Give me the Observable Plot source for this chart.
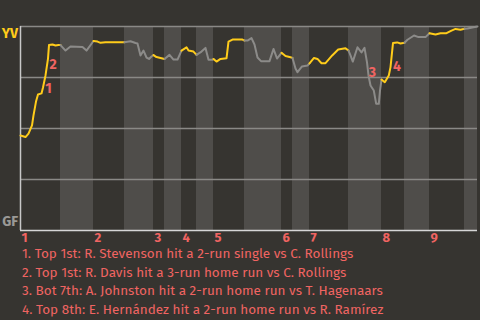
<!DOCTYPE html>
<html><head><meta charset="utf-8">
<script src="https://cdn.jsdelivr.net/npm/d3@7"></script>
<script src="https://cdn.jsdelivr.net/npm/@observablehq/plot@0.6"></script>
<style>
html,body{margin:0;padding:0;background:#363430;}
body{width:480px;height:320px;overflow:hidden;font-family:"Fira Sans",Lato,"Noto Sans",sans-serif;}
#notes{color:#f06462;font-size:13.5px;line-height:18.5px;padding-left:22px;white-space:nowrap;}
svg{display:block;}
</style></head><body><div id="chart"></div><div id="notes"></div>
<script>
// Game progress (plays, in chart units) and YV win probability
const progress = [0,5,8,11.5,13,15.5,17.5,21,22.5,25,27.5,28.5,32,35,38,40,
  45,50,62,66,73,
  77,80,85,104,
  110,115,117,120,123,126,128.5,131,133,
  136,140,144,
  149,153,157,161,
  166,168,173,176,
  181,185,188,192,193,
  196,200,206,208,212,222,224,
  227,231,234,237,240.5,249,253,256.5,261,
  265,270,272,
  275,277,281.5,287,289,
  293.5,297,301,305,311.7,317.7,325,328,
  330,332.3,337,341,344,346.5,348,350,353.3,355.7,358.3,359.5,361,
  364.3,368.3,370,372.5,376.7,380,384,
  387,393.5,398,405,409,
  415,420,426,431,435,440,444,
  447,453,457];
const winProb = [0.466,0.458,0.475,0.515,0.564,0.632,0.667,0.672,0.701,0.760,0.843,0.909,0.912,0.907,0.909,0.909,
  0.882,0.902,0.899,0.882,0.929,
  0.926,0.920,0.923,0.923,
  0.928,0.919,0.917,0.858,0.882,0.848,0.841,0.853,0.860,
  0.850,0.846,0.841,
  0.861,0.838,0.838,0.882,
  0.898,0.882,0.877,0.861,
  0.877,0.895,0.837,0.837,0.841,
  0.828,0.841,0.844,0.926,0.936,0.936,0.931,
  0.931,0.943,0.912,0.848,0.830,0.830,0.890,0.843,0.871,
  0.855,0.849,0.846,
  0.794,0.776,0.804,0.809,0.819,
  0.846,0.841,0.820,0.820,0.858,0.887,0.893,0.882,
  0.858,0.828,0.898,0.873,0.895,0.824,0.760,0.711,0.686,0.621,0.621,0.686,0.740,
  0.727,0.760,0.801,0.919,0.922,0.917,0.920,
  0.935,0.956,0.948,0.948,0.967,
  0.961,0.967,0.967,0.980,0.988,0.984,0.989,
  0.990,0.996,1.0];
const inningStarts = [0,73,133,161,193,261,289,361,409];
const bottomStarts = [40,104,144,176,224,272,328,384,444];
const gameEnd = 457;
const inningLabels = ["1","2","3","4","5","6","7","8","9"];
const teams = ["YV","GF"];
const eventNums = ["1","2","3","4"];
const eventX = [28,32.5,352,376.5];
const eventWP = [0.697,0.815,0.775,0.805];
const eventNotes = [
  "1. Top 1st: R. Stevenson hit a 2-run single vs C. Rollings",
  "2. Top 1st: R. Davis hit a 3-run home run vs C. Rollings",
  "3. Bot 7th: A. Johnston hit a 2-run home run vs T. Hagenaars",
  "4. Top 8th: E. Hernández hit a 2-run home run vs R. Ramírez"
];

const YELLOW = "#ffcc1a", GRAY = "#8c8b89", RED = "#f06462";

// half-inning edges
const edges = [];
inningStarts.forEach((s,i)=>{edges.push(s); edges.push(bottomStarts[i]);});
const rows = [];
progress.forEach((x,i)=>{
  let h = Math.min(d3.bisectRight(edges, x) - 1, edges.length - 1);
  rows.push({x, wp: winProb[i], half: h});
  if (h > 0 && x === edges[h]) rows.push({x, wp: winProb[i], half: h - 1});
});
rows.sort((a,b)=>a.half-b.half || a.x-b.x);
const bands = bottomStarts.map((s,i)=>({x1:s, x2: i+1<inningStarts.length ? inningStarts[i+1] : gameEnd}));
const innings = inningStarts.map((s,i)=>({x:s, label: inningLabels[i]}));
const events = eventNums.map((n,i)=>({x:eventX[i], wp:eventWP[i], n}));

const chart = Plot.plot({
  width: 480, height: 245,
  marginLeft: 20, marginRight: 3, marginTop: 26, marginBottom: 15,
  style: {background: "#363430", fontFamily: '"Fira Sans",Lato,"Noto Sans",sans-serif'},
  x: {domain: [0, gameEnd], axis: null},
  y: {domain: [0, 1], axis: null},
  color: {type: "identity"},
  marks: [
    Plot.rect(bands, {x1:"x1", x2:"x2", y1:0, y2:1, fill:"#4f4d4a"}),
    Plot.ruleY([0.25,0.5,0.75,1], {x1:0, x2:gameEnd, stroke:"#8a8986", strokeWidth:1.5}),
    Plot.ruleY([0], {x1:0, x2:gameEnd, stroke:"#d6d6d6", strokeWidth:1.5}),
    Plot.ruleX([0], {y1:0, y2:1, stroke:"#c8c8c8", strokeWidth:1.5}),
    Plot.line(rows, {x:"x", y:"wp", z:"half", stroke: d => d.half % 2 === 0 ? YELLOW : GRAY, strokeWidth: 2}),
    Plot.text(events, {x:"x", y:"wp", text:"n", fill: RED, fontWeight:"bold", fontSize: 14}),
    Plot.text(innings, {x:"x", y:0, text:"label", textAnchor:"start", lineAnchor:"top", dy: 2, dx: 1, fill: RED, fontWeight:"bold", fontSize: 13}),
    Plot.text([teams[0]], {x:0, y:1, text: d=>d, textAnchor:"end", dx:-2.5, dy:7, fill: YELLOW, fontWeight:"bold", fontSize: 14}),
    Plot.text([teams[1]], {x:0, y:0, text: d=>d, textAnchor:"end", dx:-2.5, dy:-8.5, fill: "#9a9996", fontWeight:"bold", fontSize: 14})
  ]
});
document.getElementById("chart").appendChild(chart);
const notes = document.getElementById("notes");
eventNotes.forEach(t=>{const d=document.createElement("div"); d.textContent=t; notes.appendChild(d);});
</script>
</body></html>
